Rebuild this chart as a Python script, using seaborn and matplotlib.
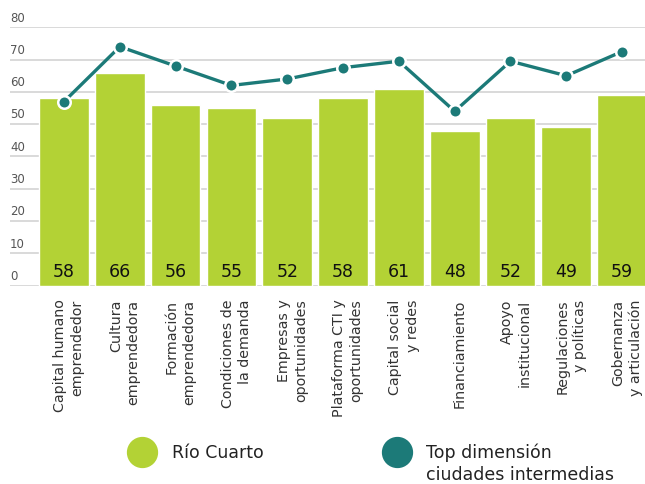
import matplotlib
matplotlib.use("Agg")
import matplotlib.pyplot as plt
import matplotlib.transforms as mtransforms
from matplotlib.lines import Line2D
import pandas as pd
import seaborn as sns

categories = [
    "Capital humano\nemprendedor",
    "Cultura\nemprendedora",
    "Formación\nemprendedora",
    "Condiciones de\nla demanda",
    "Empresas y\noportunidades",
    "Plataforma CTI y\noportunidades",
    "Capital social\ny redes",
    "Financiamiento",
    "Apoyo\ninstitucional",
    "Regulaciones\ny políticas",
    "Gobernanza\ny articulación",
]
rio_cuarto = [58, 66, 56, 55, 52, 58, 61, 48, 52, 49, 59]
top_ciudades = [57, 74, 68, 62, 64, 67.5, 69.5, 54, 69.5, 65, 72.5]
y_ticks = [0, 10, 20, 30, 40, 50, 60, 70, 80]
legend_labels = ["Río Cuarto", "Top dimensión\nciudades intermedias"]

GREEN = "#B3D235"
TEAL = "#1C7A78"

sns.set_style("white")
plt.rcParams["font.family"] = ["DejaVu Sans"]

df = pd.DataFrame({"dim": categories, "rio": rio_cuarto, "top": top_ciudades})

fig = plt.figure(figsize=(6.45, 4.84), dpi=100)
ax = fig.add_axes([10 / 645, 1 - 285.7 / 484, 635 / 645, (285.7 - 27.3) / 484])

sns.barplot(data=df, x="dim", y="rio", color=GREEN, width=0.89, saturation=1,
            ax=ax)
sns.pointplot(data=df, x="dim", y="top", color=TEAL, markers="o", ax=ax,
              linewidth=2.4, markersize=9, markeredgecolor="white",
              markeredgewidth=1.8)

for i, v in enumerate(rio_cuarto):
    ax.annotate(str(v), (i, 0), xytext=(0, 6), textcoords="offset points",
                ha="center", va="baseline", fontsize=12.5, color="#111111",
                zorder=5)

trans = mtransforms.blended_transform_factory(ax.transAxes, ax.transData)
for v in y_ticks:
    ax.annotate(str(v), (0, v), xycoords=trans, xytext=(0, 2),
                textcoords="offset points", ha="left", va="bottom",
                fontsize=8.5, color="#555555")

ax.set_ylim(0, 80)
ax.set_xlim(-0.968, 10.41)
ax.set_yticks(y_ticks)
ax.set_yticklabels([])
ax.tick_params(axis="y", length=0)
ax.grid(axis="y", color="#d9d9d9", lw=1.4)
ax.set_axisbelow(True)
ax.set_xticks(range(len(categories)))
ax.set_xticklabels(categories, rotation=90, ha="center", va="top",
                   multialignment="right", fontsize=10.3, color="#333333",
                   linespacing=1.3)
ax.tick_params(axis="x", length=0, pad=10)
offset = mtransforms.ScaledTranslation(0.05, 0, fig.dpi_scale_trans)
for lab in ax.get_xticklabels():
    lab.set_transform(lab.get_transform() + offset)
ax.set_xlabel("")
ax.set_ylabel("")
for s in ax.spines.values():
    s.set_visible(False)

# legend, drawn by hand so the key sits on the first text line
fig.add_artist(Line2D([142 / 645], [1 - 452 / 484], marker="o", markersize=21.5,
                      color=GREEN, transform=fig.transFigure, linestyle="none"))
fig.add_artist(Line2D([397 / 645], [1 - 452 / 484], marker="o", markersize=21.5,
                      color=TEAL, transform=fig.transFigure, linestyle="none"))
fig.text(172 / 645, 1 - 457.5 / 484, legend_labels[0], ha="left", va="baseline",
         fontsize=12.5, color="#222222")
line1, line2 = legend_labels[1].split("\n")
fig.text(426 / 645, 1 - 457.5 / 484, line1, ha="left", va="baseline",
         fontsize=12.5, color="#222222")
fig.text(426 / 645, 1 - 479.5 / 484, line2, ha="left", va="baseline",
         fontsize=12.5, color="#222222")

fig.savefig("out.png", dpi=100)
